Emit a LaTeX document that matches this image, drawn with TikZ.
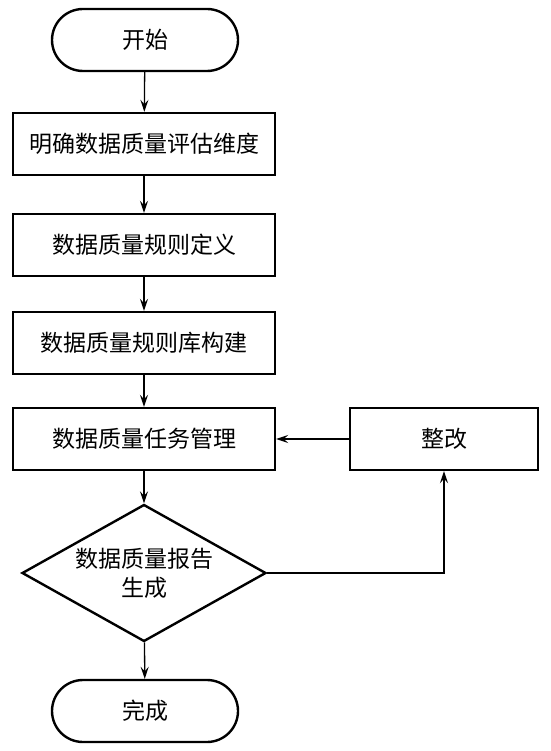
\documentclass[tikz,border=0pt]{standalone}
\usepackage{fontspec}
\newfontfamily\cjk{Noto Sans CJK SC}
\usetikzlibrary{shapes.misc,shapes.geometric,arrows.meta}
\begin{document}
\begin{tikzpicture}[x=1pt,y=-1pt,
  every node/.style={font=\cjk\fontsize{23}{29}\selectfont, inner sep=0pt},
  term/.style={draw, line width=2.4pt, rounded rectangle, minimum width=186pt, minimum height=62pt},
  proc/.style={draw, line width=2.4pt, rectangle, minimum width=262pt, minimum height=62pt},
  fixbox/.style={draw, line width=2.4pt, rectangle, minimum width=188pt, minimum height=62pt},
  decision/.style={draw, line width=2.4pt, diamond, aspect=1.78, minimum width=244pt, minimum height=137pt, align=center},
  conn/.style={line width=1.3pt, -{Stealth[length=12pt,width=8pt,inset=4.5pt]}}]
\useasboundingbox (0,0) rectangle (550,751);
\node[term] (start) at (145,40) {开始};
\node[proc] (b1) at (144,144) {明确数据质量评估维度};
\node[proc] (b2) at (144,245) {数据质量规则定义};
\node[proc] (b3) at (144,343) {数据质量规则库构建};
\node[proc] (b4) at (144,439) {数据质量任务管理};
\node[fixbox] (fix) at (444,439) {整改};
\node[decision] (dia) at (144,573) {数据质量报告\\生成};
\node[term] (end) at (145,711) {完成};
\draw[conn] (start) -- (b1);
\draw[conn] (b1) -- (b2);
\draw[conn] (b2) -- (b3);
\draw[conn] (b3) -- (b4);
\draw[conn] (b4) -- (dia);
\draw[conn] (dia) -- (end);
\draw[conn] (dia.east) -| (fix.south);
\draw[conn] (fix.west) -- (b4.east);
\end{tikzpicture}
\end{document}
